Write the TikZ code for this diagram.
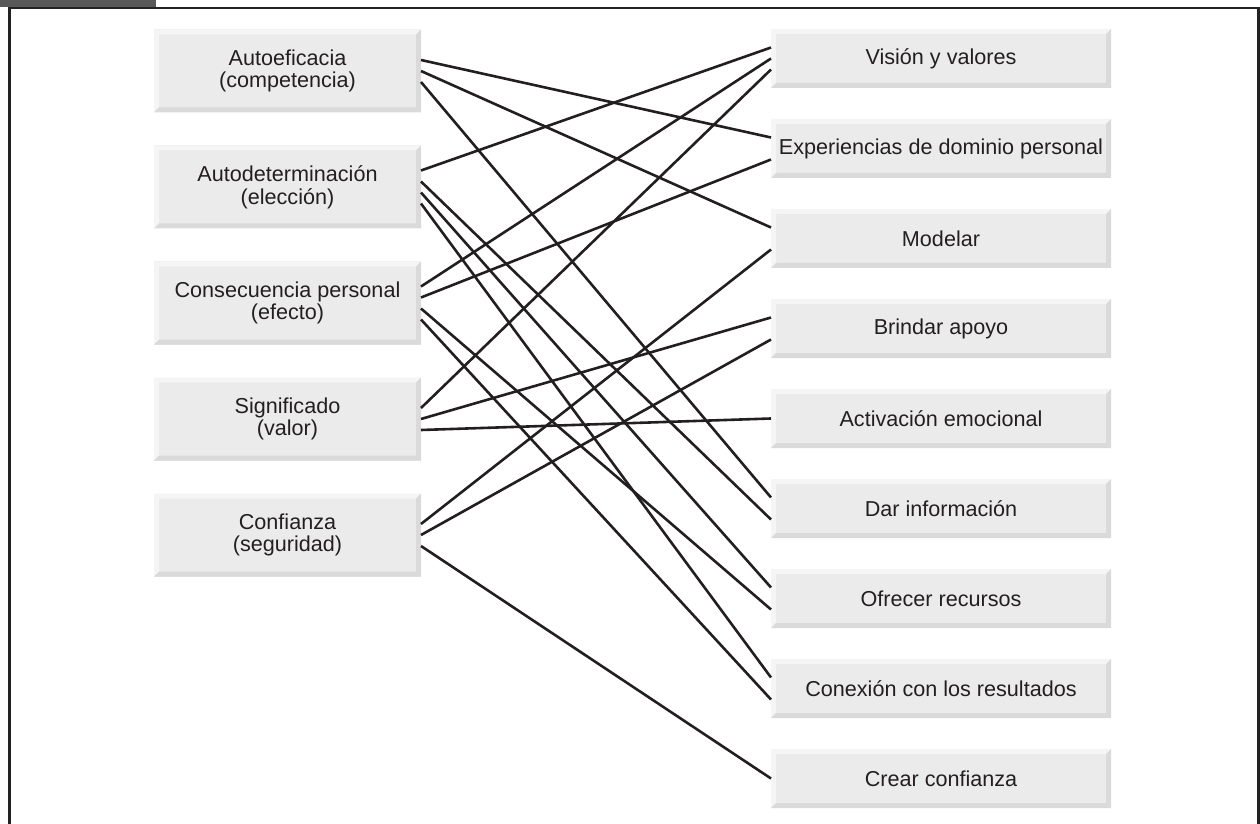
\documentclass[tikz,border=0pt]{standalone}
\usepackage{fontspec}
\setmainfont{Liberation Sans}
\usepackage{tikz}
\usetikzlibrary{positioning,calc}
\definecolor{ink}{RGB}{35,31,32}
\definecolor{tabgray}{RGB}{88,88,88}
\definecolor{rulegray}{RGB}{34,34,34}
\definecolor{boxface}{RGB}{235,235,235}
\definecolor{boxlight}{RGB}{245,245,245}
\definecolor{boxshade}{RGB}{218,218,218}
\tikzset{
  bevel/.style={fill=boxface,inner sep=0pt,outer sep=0pt,align=center,text=ink,
    font=\fontsize{10.8}{11.4}\selectfont,
    path picture={
      \fill[boxlight] (path picture bounding box.south west)
        -- (path picture bounding box.north west)
        -- (path picture bounding box.north east)
        -- ($(path picture bounding box.north east)+(-2.5pt,-2.5pt)$)
        -- ($(path picture bounding box.north west)+(2.5pt,-2.5pt)$)
        -- ($(path picture bounding box.south west)+(2.5pt,2.5pt)$) -- cycle;
      \fill[boxshade] (path picture bounding box.south west)
        -- (path picture bounding box.south east)
        -- (path picture bounding box.north east)
        -- ($(path picture bounding box.north east)+(-2.5pt,-2.5pt)$)
        -- ($(path picture bounding box.south east)+(-2.5pt,2.5pt)$)
        -- ($(path picture bounding box.south west)+(2.5pt,2.5pt)$) -- cycle;
    }},
  quality/.style={bevel,minimum width=133.5pt,minimum height=41.5pt},
  source/.style={bevel,minimum width=170pt,minimum height=29.5pt},
  link/.style={line width=1.3pt,ink},
  frame/.style={line width=1.3pt,rulegray}
}

\begin{document}
\begin{tikzpicture}[x=1pt,y=1pt]
  \useasboundingbox (0,0) rectangle (630,-412);
  % frame and tab
  \fill[tabgray] (0,0) rectangle (78,-3.4);
  \draw[frame] (4.8,-412) -- (4.8,-4) -- (629.2,-4) -- (629.2,-412);

  % left column
  \node[quality] (efic) at (143.75,-35.5) {Autoeficacia\\(competencia)};
  \node[quality,below=16.5pt of efic] (deter) {Autodeterminación\\(elección)};
  \node[quality,below=16.5pt of deter] (conse) {Consecuencia personal\\(efecto)};
  \node[quality,below=16.5pt of conse] (signi) {Significado\\(valor)};
  \node[quality,below=16.5pt of signi] (confi) {Confianza\\(seguridad)};

  % right column
  \node[source] (vision) at (470.5,-29.25) {Visión y valores};
  \node[source,below=15.5pt of vision] (exper) {Experiencias de dominio personal};
  \node[source,below=15.5pt of exper] (model) {Modelar};
  \node[source,below=15.5pt of model] (apoyo) {Brindar apoyo};
  \node[source,below=15.5pt of apoyo] (activ) {Activación emocional};
  \node[source,below=15.5pt of activ] (info) {Dar información};
  \node[source,below=15.5pt of info] (recur) {Ofrecer recursos};
  \node[source,below=15.5pt of recur] (conex) {Conexión con los resultados};
  \node[source,below=15.5pt of conex] (crear) {Crear confianza};

  % links
  \draw[link] ([yshift=5.5pt]efic.east) -- ([yshift=5.5pt]exper.west);
  \draw[link] (efic.east) -- ([yshift=5.5pt]model.west);
  \draw[link] ([yshift=-5.5pt]efic.east) -- ([yshift=5.5pt]info.west);
  \draw[link] ([yshift=8.25pt]deter.east) -- ([yshift=5.5pt]vision.west);
  \draw[link] ([yshift=2.75pt]deter.east) -- ([yshift=-5.5pt]info.west);
  \draw[link] ([yshift=-2.75pt]deter.east) -- ([yshift=5.5pt]recur.west);
  \draw[link] ([yshift=-8.25pt]deter.east) -- ([yshift=5.5pt]conex.west);
  \draw[link] ([yshift=8.25pt]conse.east) -- (vision.west);
  \draw[link] ([yshift=2.75pt]conse.east) -- ([yshift=-5.5pt]exper.west);
  \draw[link] ([yshift=-2.75pt]conse.east) -- ([yshift=-5.5pt]recur.west);
  \draw[link] ([yshift=-8.25pt]conse.east) -- ([yshift=-5.5pt]conex.west);
  \draw[link] ([yshift=5.5pt]signi.east) -- ([yshift=-5.5pt]vision.west);
  \draw[link] (signi.east) -- ([yshift=5.5pt]apoyo.west);
  \draw[link] ([yshift=-5.5pt]signi.east) -- (activ.west);
  \draw[link] ([yshift=5.5pt]confi.east) -- ([yshift=-5.5pt]model.west);
  \draw[link] (confi.east) -- ([yshift=-5.5pt]apoyo.west);
  \draw[link] ([yshift=-5.5pt]confi.east) -- (crear.west);
\end{tikzpicture}
\end{document}
